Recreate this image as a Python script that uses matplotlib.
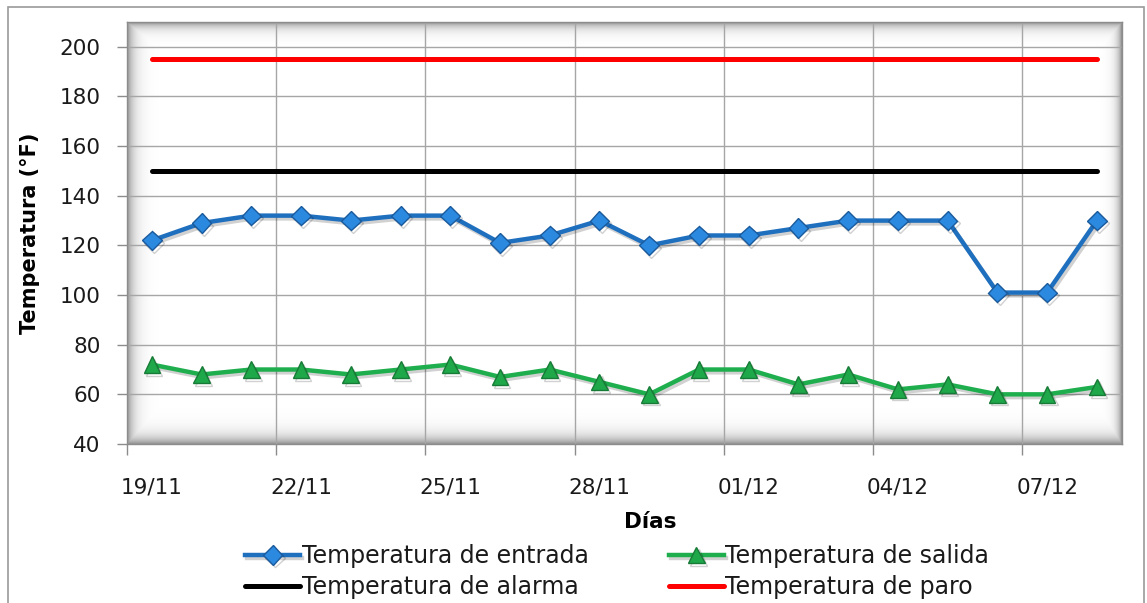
import matplotlib.pyplot as plt
import matplotlib.patheffects as pe
import numpy as np
from matplotlib.patches import Rectangle

plt.rcParams['font.family'] = ['DejaVu Sans']

dias = ["19/11", "20/11", "21/11", "22/11", "23/11", "24/11", "25/11",
        "26/11", "27/11", "28/11", "29/11", "30/11", "01/12", "02/12",
        "03/12", "04/12", "05/12", "06/12", "07/12", "08/12"]
temp_entrada = [122, 129, 132, 132, 130, 132, 132, 121, 124, 130,
                120, 124, 124, 127, 130, 130, 130, 101, 101, 130]
temp_salida = [72, 68, 70, 70, 68, 70, 72, 67, 70, 65,
               60, 70, 70, 64, 68, 62, 64, 60, 60, 63]
temp_alarma = [150] * len(dias)
temp_paro = [195] * len(dias)

x = np.arange(len(dias))

fig = plt.figure(figsize=(11.47, 6.03), dpi=100)
fig.patches.append(Rectangle((0.007, -0.02), 0.990, 1.008, transform=fig.transFigure,
                             facecolor="none", edgecolor="#9a9a9a", linewidth=1.2,
                             zorder=-1))
ax = fig.add_axes([0.1107, 0.2637, 0.8673, 0.6998])
ax.set_facecolor("white")

# inner shadow of the plot area
h, w = 420, 995
yy, xx = np.mgrid[0:h, 0:w]
d = np.minimum.reduce([xx * 0.9, (w - 1 - xx) * 1.3, yy * 1.1, (h - 1 - yy) * 0.8])
shade = np.zeros((h, w, 4))
shade[..., 3] = 0.42 * np.exp(-d / 6.0)
ax.imshow(shade, extent=[0, 1, 0, 1], transform=ax.transAxes, aspect="auto",
          zorder=0.5, interpolation="bilinear")

shadow = [pe.SimpleLineShadow(offset=(1.5, -2), alpha=0.18, shadow_color="black"), pe.Normal()]

ax.plot(x, temp_paro, color="#ff0000", lw=3.6, solid_capstyle="round", zorder=3,
        label="Temperatura de paro")
ax.plot(x, temp_alarma, color="#000000", lw=3.6, solid_capstyle="round", zorder=3,
        label="Temperatura de alarma")
ax.plot(x, temp_entrada, color="#1f6fbf", lw=3.2, marker="D", markersize=10,
        markerfacecolor="#2b8ae0", markeredgecolor="#1a5a9c", markeredgewidth=1,
        zorder=4, label="Temperatura de entrada", path_effects=shadow)
ax.plot(x, temp_salida, color="#1fae4e", lw=3.2, marker="^", markersize=12,
        markerfacecolor="#1fa84a", markeredgecolor="#177a36", markeredgewidth=1,
        zorder=4, label="Temperatura de salida", path_effects=shadow)

ax.set_xlim(-0.5, len(dias) - 0.5)
ax.set_ylim(40, 210)
ax.set_yticks(np.arange(40, 201, 20))

# major ticks at band edges (grid), labels at band centres
ax.set_xticks(np.arange(-0.5, len(dias) - 0.5, 3))
ax.set_xticklabels([])
ax.set_xticks(x[::3], minor=True)
ax.set_xticklabels(dias[::3], minor=True)
ax.tick_params(axis="x", which="major", length=8, width=1, color="#8c8c8c")
ax.tick_params(axis="x", which="minor", length=0, pad=24, labelsize=15.5, labelcolor="#1a1a1a")
ax.tick_params(axis="y", length=7, width=1, color="#8c8c8c", pad=12, labelsize=15.5,
               labelcolor="#1a1a1a")

ax.grid(True, which="major", color="#a6a6a6", lw=1, zorder=1)
ax.set_axisbelow(True)
for s in ax.spines.values():
    s.set_color("#8c8c8c")
    s.set_linewidth(1)

ax.set_xlabel("Días", fontsize=15.5, fontweight="bold", va="center")
ax.xaxis.set_label_coords(0.526, -0.185)
ax.set_ylabel("Temperatura (°F)", fontsize=15, fontweight="bold", labelpad=14)

hs, ls = ax.get_legend_handles_labels()
order = [2, 1, 3, 0]
leg = fig.legend([hs[i] for i in order], [ls[i] for i in order], ncol=2,
                 loc="center", bbox_to_anchor=(0.538, 0.052), frameon=False,
                 fontsize=17, handlelength=2.35, handletextpad=0.05,
                 columnspacing=3.4, labelspacing=0.3)
for t in leg.get_texts():
    t.set_color("#1a1a1a")

fig.savefig("out.png", dpi=100)
